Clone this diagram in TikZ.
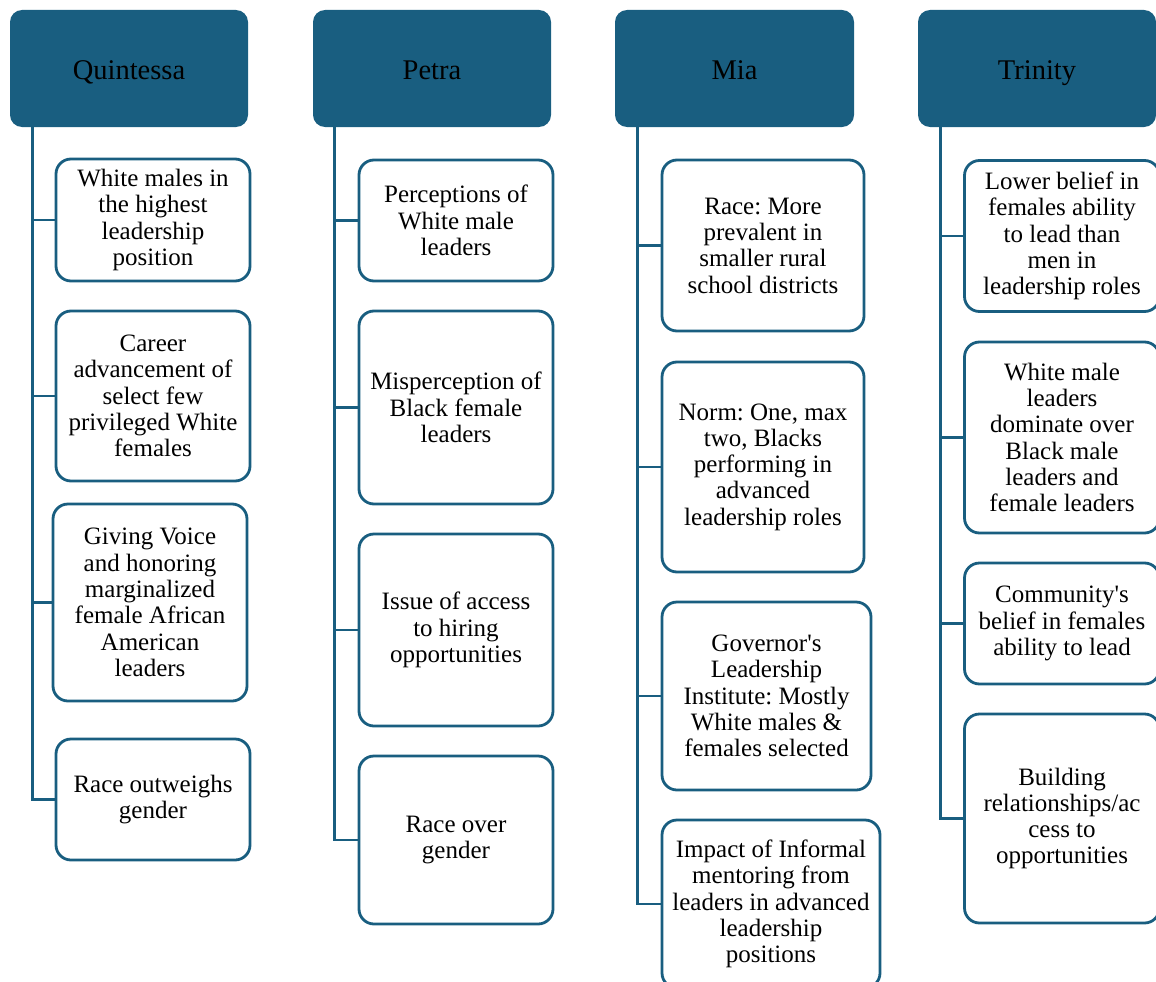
\documentclass[tikz,border=0pt]{standalone}
\usepackage{fontspec}
\setmainfont{Liberation Serif}[Ligatures=TeXOff]
\usetikzlibrary{calc}
\definecolor{teal1}{RGB}{25,94,128}
\frenchspacing
\tikzset{
  hdr/.style={fill=teal1, draw=none, rounded corners=12pt, inner sep=0pt,
    minimum width=238pt, minimum height=117pt, text=black,
    text height=26pt, text depth=3pt,
    font=\fontsize{28.5}{30}\selectfont},
  itembox/.style={draw=teal1, line width=2.8pt, fill=white, rounded corners=15pt,
    inner xsep=0pt, inner ysep=0pt, align=center, text=black, font=\fontsize{25}{26.3}\selectfont},
  trunk/.style={draw=teal1, line width=2.8pt},
}
\begin{document}
\begin{tikzpicture}[x=1pt,y=-1pt]
\useasboundingbox (0,0) rectangle (1156,982);
\clip (0,0) rectangle (1156,982);
% headers
\node[hdr] (hq) at (129,68.5) {Quintessa};
\node[hdr] (hp) at (432,68.5) {Petra};
\node[hdr, minimum width=239pt] (hm) at (734.5,68.5) {Mia};
\node[hdr] (ht) at (1037,68.5) {Trinity};
% Quintessa
\node[itembox, minimum width=194pt, minimum height=122pt] (q1) at (153,220) {White males in\\the highest\\leadership\\position};
\node[itembox, minimum width=194pt, minimum height=170pt] (q2) at (153,396) {Career\\advancement of\\select few\\privileged White\\females};
\node[itembox, minimum width=194pt, minimum height=197pt] (q3) at (150,602.5) {Giving Voice\\and honoring\\marginalized\\female African\\American\\leaders};
\node[itembox, minimum width=194pt, minimum height=121pt] (q4) at (153,799.5) {Race outweighs\\gender};
% Petra
\node[itembox, minimum width=194pt, minimum height=121pt] (p1) at (456,220.5) {Perceptions of\\White male\\leaders};
\node[itembox, minimum width=194pt, minimum height=193pt] (p2) at (456,407.5) {Misperception of\\Black female\\leaders};
\node[itembox, minimum width=194pt, minimum height=192pt] (p3) at (456,630) {Issue of access\\to hiring\\opportunities};
\node[itembox, minimum width=194pt, minimum height=168pt] (p4) at (456,840) {Race over\\gender};
% Mia
\node[itembox, minimum width=202pt, minimum height=171pt] (m1) at (763,245.5) {Race: More\\prevalent in\\smaller rural\\school districts};
\node[itembox, minimum width=202pt, minimum height=210pt] (m2) at (763,467) {Norm: One, max\\two, Blacks\\performing in\\advanced\\leadership roles};
\node[itembox, minimum width=209pt, minimum height=188pt] (m3) at (766.5,696) {Governor's\\Leadership\\Institute: Mostly\\White males \&\\females selected};
\node[itembox, minimum width=218pt, minimum height=168pt] (m4) at (771,904) {Impact of Informal\\mentoring from\\leaders in advanced\\leadership\\positions};
% Trinity
\node[itembox, minimum width=195pt, minimum height=151pt] (t1) at (1062,236) {Lower belief in\\females ability\\to lead than\\men in\\leadership roles};
\node[itembox, minimum width=195pt, minimum height=191pt] (t2) at (1062,437.5) {White male\\leaders\\dominate over\\Black male\\leaders and\\female leaders};
\node[itembox, minimum width=195pt, minimum height=121pt] (t3) at (1062,623.5) {Community's\\belief in females\\ability to lead};
\node[itembox, minimum width=195pt, minimum height=209pt] (t4) at (1062,818.5) {Building\\relationships/ac\\cess to\\opportunities};
% connectors
\coordinate (cq) at ($(hq.south west)+(23,0)$);
\coordinate (cp) at ($(hp.south west)+(22,0)$);
\coordinate (cm) at ($(hm.south west)+(23,0)$);
\coordinate (ct) at ($(ht.south west)+(23,0)$);
\foreach \b in {q1,q2,q3,q4} \draw[trunk] (cq) |- (\b.west);
\foreach \b in {p1,p2,p3,p4} \draw[trunk] (cp) |- (\b.west);
\foreach \b in {m1,m2,m3,m4} \draw[trunk] (cm) |- (\b.west);
\foreach \b in {t1,t2,t3,t4} \draw[trunk] (ct) |- (\b.west);
\end{tikzpicture}
\end{document}
